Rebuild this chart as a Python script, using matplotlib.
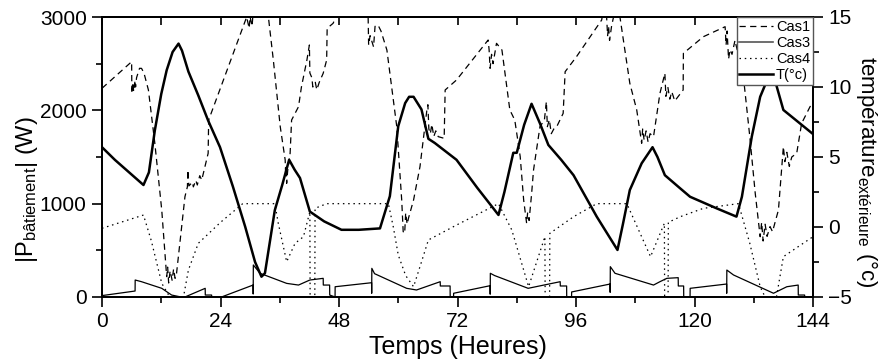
import matplotlib
matplotlib.use("Agg")
import matplotlib.pyplot as plt
from matplotlib.lines import Line2D
from matplotlib.ticker import MultipleLocator

plt.rcParams['font.family'] = ['Liberation Sans', 'DejaVu Sans']
plt.rcParams['mathtext.fontset'] = 'custom'
plt.rcParams['mathtext.rm'] = 'Liberation Sans'
plt.rcParams['mathtext.it'] = 'Liberation Sans:italic'

# ---------------- data ----------------
t_cas1 = [0, 6.0, 6.05, 6.3, 6.4, 6.7, 6.8, 7.0, 7.6, 8.0, 8.5, 9.4, 10.7, 12.1, 13.1, 13.3, 13.5, 13.8,
          14.2, 14.5, 14.8, 15.1, 16.8, 17.3, 17.4, 17.6, 18.3, 18.5, 19.0, 19.3, 19.8, 20.2, 21.5, 21.6,
          29.3, 29.8, 30.0, 30.4, 30.6, 31.5, 32.5, 33.7, 34.7, 36.1, 37.1, 37.2, 37.3, 37.4, 37.6, 38.1,
          38.4, 39.8, 40.4, 41.5, 42.0, 42.1, 42.5, 42.7, 43.2, 43.5, 44.0, 44.8, 45.5, 45.6, 46.8, 47.4,
          50.5, 53.9, 54.0, 54.3, 54.6, 55.0, 55.3, 55.9, 56.5, 57.7, 59.7, 60.7, 61.0, 61.3, 61.5, 61.8,
          62.1, 63.1, 64.4, 65.8, 66.0, 66.2, 66.5, 66.8, 67.2, 67.6, 68.1, 69.3, 69.5, 71.8, 78.2, 78.4,
          78.6, 78.9, 79.2, 79.9, 81.0, 82.6, 83.6, 84.7, 85.4, 86.0, 86.2, 86.5, 87.0, 87.4, 88.7, 89.6,
          90.0, 90.2, 90.6, 91.0, 91.5, 92.1, 93.4, 93.8, 96.1, 101.2, 101.6, 102.2, 102.4, 102.6, 102.8,
          103.2, 103.6, 104.3, 104.9, 106.9, 108.3, 109.3, 109.5, 109.8, 110.2, 110.6, 111.0, 111.7, 113.0,
          114.0, 114.2, 114.6, 115.0, 115.4, 116.0, 117.7, 117.75, 121.8, 126.2, 126.4, 126.6, 126.9, 127.2,
          127.6, 128.2, 128.5, 129.9, 131.2, 132.3, 133.3, 133.6, 133.9, 134.3, 134.7, 135.3, 135.8, 137.0,
          138.0, 138.3, 138.7, 139.2, 139.7, 140.7, 141.7, 143.4, 144]
p_cas1 = [2236, 2521, 2182, 2300, 2200, 2320, 2250, 2350, 2450, 2450, 2400, 2218, 1647, 932, 218, 320, 150, 280,
          180, 300, 200, 254, 1075, 1182, 1360, 1190, 1230, 1180, 1250, 1200, 1300, 1253, 1540, 1896,
          3000, 2880, 3000, 2900, 3050, 3250, 3300, 3000, 2539, 1825, 1468, 1300, 1400, 1218, 1350, 1540,
          1896, 2039, 2253, 2539, 2700, 2400, 2350, 2250, 2300, 2220, 2300, 2397, 2539, 2879, 2932, 3000,
          3300, 3000, 2700, 2800, 2750, 2680, 2900, 2914, 2850, 2646, 1825, 1039, 700, 682, 900, 780,
          850, 1039, 1396, 2004, 2060, 1800, 1750, 1850, 1720, 1780, 1718, 1700, 2218, 2325, 2753, 2650,
          2450, 2600, 2500, 2718, 2646, 2004, 1896, 1504, 1039, 790, 900, 820, 1100, 1361, 1825, 1896,
          2093, 1825, 1900, 1750, 1800, 1825, 1968, 2414, 2575, 2968, 3100, 3000, 2800, 2900, 2750,
          2900, 3000, 3150, 3000, 2290, 2004, 1647, 1800, 1680, 1780, 1660, 1750, 1718, 2182,
          2397, 2150, 2250, 2120, 2200, 2100, 2218, 2611, 2789, 2896, 2700, 2850, 2550, 2650,
          2600, 2750, 2682, 2361, 1718, 1111, 646, 800, 600, 780, 650, 754, 700, 932,
          1611, 1450, 1550, 1400, 1500, 1540, 1861, 2039, 2080]

t_cas3 = [0, 6.7, 6.72, 8.0, 12.1, 14.1, 16.0, 16.8, 20.9, 20.92, 22.2, 22.22, 24.2, 30.6, 30.62, 30.65,
          32.0, 37.4, 39.8, 42.1, 44.8, 44.82, 46.1, 46.12, 47.2, 47.22, 54.6, 54.62, 54.65, 55.2,
          61.7, 63.7, 68.5, 68.52, 70.5, 70.52, 71.2, 71.22, 78.6, 78.62, 78.65, 79.5, 86.3, 92.8, 92.82,
          94.1, 94.12, 95.1, 95.12, 102.9, 102.92, 102.95, 103.9, 111.7, 113.0, 114.4, 116.7, 116.72,
          117.8, 117.82, 119.1, 119.12, 126.5, 126.52, 126.55, 127.9, 136.0, 138.7, 141.0, 141.02,
          142.3, 142.32, 144]
p_cas3 = [15, 64, 182, 164, 93, 21, 0, 0, 93, 21, 21, 0, 0, 128, 32, 343,
          254, 146, 128, 182, 200, 128, 128, 21, 0, 110, 153, 40, 307, 250,
          93, 75, 164, 118, 118, 0, 0, 40, 121, 30, 254, 230, 93, 164, 118,
          118, 0, 0, 54, 139, 50, 325, 254, 128, 164, 200, 207, 118,
          118, 0, 0, 93, 139, 40, 289, 236, 40, 110, 128, 21,
          21, 0, 0]

t_cas4 = [0, 8.4, 10.0, 12.1, 13.5, 14.1, 16.5, 17.5, 19.5, 24.0, 28.5, 35.0, 35.7, 37.4, 39.1, 40.8,
          42.1, 42.15, 43.1, 43.15, 45.5, 58.0, 59.0, 60.0, 61.5, 63.1, 64.4, 66.1, 71.8, 80.3, 83.0,
          86.4, 89.7, 89.75, 90.65, 90.7, 95.5, 100.2, 106.3, 111.1, 113.9, 113.95, 114.65, 114.7,
          117.1, 121.8, 128.9, 131.2, 133.3, 134.3, 136.6, 138.0, 144]
p_cas4 = [736, 878, 600, 147, 20, 0, 0, 289, 575, 800, 1000, 1000, 790, 378, 575, 646,
          914, 0, 0, 950, 1000, 1000, 750, 450, 230, 110, 325, 611, 771, 1000, 718,
          110, 646, 0, 0, 682, 860, 1000, 1000, 432, 790, 0, 0, 800,
          860, 950, 1000, 575, 110, 0, 0, 432, 646]

t_temp = [0, 2.6, 5.5, 8.4, 9.5, 10.7, 12.0, 13.1, 14.3, 15.5, 16.2, 17.5, 19.5, 21.5, 23.9, 26.5, 29.0,
          31.0, 32.3, 33.0, 35.0, 36.5, 37.9, 39.0, 40.1, 42.1, 45.0, 48.5, 52.0, 56.3, 58.3, 60.0, 61.4,
          62.2, 63.1, 64.7, 66.1, 67.4, 71.8, 76.0, 80.3, 81.5, 83.3, 84.0, 85.5, 87.0, 88.7, 90.4, 93.0,
          95.5, 100.2, 104.4, 105.5, 106.9, 109.3, 111.5, 112.5, 114.0, 117.1, 119.1, 124.5, 128.5, 129.6,
          131.6, 133.3, 134.6, 135.5, 136.6, 138.0, 141.7, 144]
temp = [5.7, 4.8, 3.9, 3.0, 3.9, 6.9, 9.5, 11.2, 12.5, 13.1, 12.6, 11.1, 9.4, 7.6, 5.7, 2.9, 0.02,
        -2.5, -3.55, -3.3, 1.2, 3.0, 4.8, 4.1, 3.5, 1.1, 0.4, -0.2, -0.2, -0.1, 2.2, 7.2, 8.85,
        9.3, 9.3, 8.4, 6.3, 6.0, 4.8, 2.8, 0.86, 2.5, 5.3, 5.3, 7.3, 8.8, 7.4, 5.86, 4.8,
        3.7, 0.74, -1.64, 0.2, 2.64, 4.55, 5.7, 5.0, 3.7, 2.76, 2.16, 1.33, 0.74, 2.16,
        6.45, 9.3, 10.4, 10.6, 10.1, 8.36, 7.3, 6.64]

x_ticks = [0, 24, 48, 72, 96, 120, 144]
y_ticks = [0, 1000, 2000, 3000]
t_ticks = [-5, 0, 5, 10, 15]

# ---------------- figure ----------------
fig = plt.figure(figsize=(8.82, 3.60), dpi=100)
ax = fig.add_axes([102 / 882, 1 - 297 / 360, (813 - 102) / 882, (297 - 17) / 360])
ax2 = ax.twinx()

ax.plot(t_cas1, p_cas1, color='black', lw=0.9, ls=(0, (5, 3.5)), label='Cas1')
ax.plot(t_cas3, p_cas3, color='black', lw=0.9, ls='-', label='Cas3')
ax.plot(t_cas4, p_cas4, color='black', lw=0.9, ls=(0, (1.2, 3)), label='Cas4')
ax2.plot(t_temp, temp, color='black', lw=1.8, label='T(°c)')

ax.set_xlim(0, 144)
ax.set_ylim(0, 3000)
ax2.set_ylim(-5, 15)

ax.set_xticks(x_ticks)
ax.xaxis.set_minor_locator(MultipleLocator(12))
ax.set_yticks(y_ticks)
ax.yaxis.set_minor_locator(MultipleLocator(500))
ax2.set_yticks(t_ticks)
ax2.yaxis.set_minor_locator(MultipleLocator(2.5))

tick_fs = 15
ax.tick_params(axis='both', which='major', direction='out', length=7, width=1.2, labelsize=tick_fs, pad=4)
ax.tick_params(axis='both', which='minor', direction='out', length=4.5, width=1.2)
ax2.tick_params(axis='y', which='major', direction='out', length=7, width=1.2, labelsize=tick_fs, pad=4)
ax2.tick_params(axis='y', which='minor', direction='out', length=4.5, width=1.2)

secx = ax.secondary_xaxis('top')
secx.set_xticks(list(range(0, 145, 12)))
secx.tick_params(direction='in', length=6, width=1.2, labeltop=False)
secx.spines['top'].set_linewidth(1.3)

for a in (ax, ax2):
    for s in a.spines.values():
        s.set_linewidth(1.3)

ax.set_xlabel('Temps (Heures)', fontsize=18, labelpad=3)
fig.text(27 / 882, 1 - 190 / 360, r'|P$_{\mathrm{bâtiement}}$| (W)', fontsize=17,
         rotation=90, ha='center', va='center')
fig.text(867 / 882, 1 - 172 / 360, r'température$_{\mathrm{extérieure}}$ (°c)', fontsize=16,
         rotation=270, ha='center', va='center')

handles = [Line2D([], [], color='black', lw=0.9, ls=(0, (5, 3.5))),
           Line2D([], [], color='#555555', lw=1.2, ls='-'),
           Line2D([], [], color='black', lw=0.9, ls=(0, (1.2, 3))),
           Line2D([], [], color='black', lw=1.8, ls='-')]
leg = ax2.legend(handles, ['Cas1', 'Cas3', 'Cas4', 'T(°c)'], loc='upper right', fontsize=10.5,
                 frameon=True, fancybox=False, edgecolor='#555555', borderaxespad=0.0,
                 handlelength=2.3, handletextpad=0.2, labelspacing=0.15, borderpad=0.2,
                 framealpha=1)
leg.get_frame().set_linewidth(1.0)

fig.savefig('out.png', dpi=100)
